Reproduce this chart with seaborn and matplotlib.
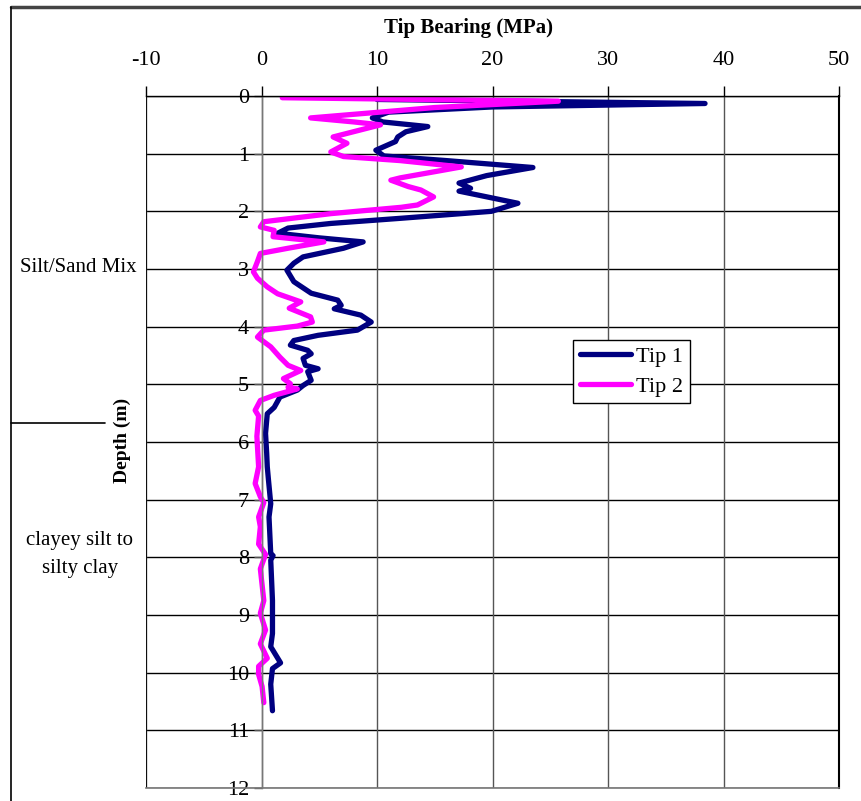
import matplotlib
matplotlib.use("Agg")
import matplotlib.pyplot as plt
import matplotlib.lines as mlines
import seaborn as sns
import pandas as pd

# Cone penetration profile: tip bearing (MPa) against depth (m)
tip1_depth = [0.06, 0.13, 0.19, 0.28, 0.38, 0.45, 0.53, 0.62, 0.71, 0.79, 0.94, 1.04,
              1.12, 1.24, 1.38, 1.51, 1.60, 1.65, 1.86, 2.00, 2.12, 2.21, 2.29, 2.38,
              2.46, 2.53, 2.64, 2.79, 2.90, 3.02, 3.22, 3.42, 3.54, 3.63, 3.69, 3.80,
              3.92, 4.06, 4.15, 4.24, 4.32, 4.41, 4.47, 4.55, 4.67, 4.73, 4.78, 4.93,
              5.02, 5.10, 5.22, 5.40, 5.51, 5.85, 6.20, 6.43, 6.65, 7.07, 7.30, 7.94,
              7.97, 8.05, 8.75, 9.32, 9.55, 9.83, 9.93, 10.20, 10.66]
tip1_mpa = [10.0, 38.4, 20.0, 11.0, 9.6, 10.5, 14.4, 12.5, 11.8, 11.6, 9.9, 10.6,
            16.0, 23.5, 19.5, 17.1, 18.1, 17.1, 22.2, 19.9, 12.1, 6.0, 2.3, 1.4,
            5.0, 8.8, 7.1, 3.6, 2.8, 2.2, 2.8, 4.3, 6.6, 6.9, 6.3, 8.6,
            9.5, 8.3, 4.9, 2.8, 2.5, 4.0, 4.3, 3.6, 3.8, 4.9, 4.0, 4.3,
            3.6, 3.1, 1.6, 1.1, 0.5, 0.35, 0.45, 0.5, 0.6, 0.8, 0.65, 0.8,
            1.0, 0.8, 0.95, 0.95, 0.8, 1.65, 0.95, 0.8, 0.95]

tip2_depth = [0.03, 0.09, 0.20, 0.38, 0.45, 0.50, 0.71, 0.82, 0.97, 1.05, 1.12, 1.23,
              1.42, 1.46, 1.57, 1.63, 1.75, 1.89, 1.93, 2.04, 2.18, 2.27, 2.33, 2.44,
              2.53, 2.64, 2.73, 2.87, 3.05, 3.16, 3.31, 3.43, 3.57, 3.68, 3.83, 3.92,
              3.99, 4.06, 4.18, 4.35, 4.53, 4.67, 4.76, 4.90, 4.99, 5.05, 5.08, 5.19,
              5.28, 5.45, 5.55, 5.90, 6.43, 6.72, 6.95, 7.05, 7.30, 7.47, 7.77, 7.95,
              8.20, 8.75, 8.97, 9.26, 9.50, 9.75, 9.89, 10.03, 10.24, 10.52]
tip2_mpa = [1.8, 25.7, 15.0, 4.25, 8.0, 10.3, 6.2, 7.4, 6.0, 7.1, 12.0, 17.3,
            12.0, 11.2, 12.7, 13.8, 14.9, 13.5, 12.1, 6.0, 0.2, -0.1, 1.1, 1.0,
            5.4, 2.3, -0.1, -0.35, -0.7, -0.35, 0.5, 1.4, 3.4, 2.4, 4.25, 4.4,
            3.1, 0.2, -0.35, 0.8, 1.6, 2.3, 3.4, 1.9, 2.5, 2.3, 3.1, 1.1,
            -0.1, -0.55, -0.25, -0.4, -0.25, -0.55, -0.1, 0.2, -0.25, -0.1, -0.25, 0.35,
            -0.1, 0.2, -0.1, 0.35, -0.1, 0.5, -0.25, -0.25, 0.05, 0.2]

x_ticks = [-10, 0, 10, 20, 30, 40, 50]
depth_ticks = list(range(0, 13))
series_names = ["Tip 1", "Tip 2"]
series_colors = ["#000080", "#FF00FF"]

df = pd.concat([
    pd.DataFrame({"depth": tip1_depth, "mpa": tip1_mpa, "series": series_names[0]}),
    pd.DataFrame({"depth": tip2_depth, "mpa": tip2_mpa, "series": series_names[1]}),
], ignore_index=True)

sns.set_theme(style="white")
plt.rcParams["font.family"] = ["Liberation Serif", "DejaVu Serif"]
plt.rcParams["text.color"] = "black"
plt.rcParams["axes.labelcolor"] = "black"
plt.rcParams["xtick.color"] = "black"
plt.rcParams["ytick.color"] = "black"

fig = plt.figure(figsize=(8.61, 8.01), dpi=100)
ax = fig.add_axes([146 / 861, 1 - 788 / 801, 693 / 861, 692 / 801])

for name, color in zip(series_names, series_colors):
    sub = df[df["series"] == name]
    sns.lineplot(data=sub, x="mpa", y="depth", sort=False, estimator=None,
                 color=color, linewidth=3.8, ax=ax, legend=False,
                 solid_capstyle="round", solid_joinstyle="round")

ax.set_xlim(-10, 50)
ax.set_ylim(12, 0)
ax.set_xticks(x_ticks)
ax.set_xticklabels([str(t) for t in x_ticks])
ax.set_yticks(depth_ticks)
ax.set_yticklabels([str(t) for t in depth_ticks])

# Grid: black horizontal lines, grey vertical lines
ax.grid(False)
for t in depth_ticks:
    ax.axhline(t, color="black", linewidth=1.0, zorder=0.5)
for t in x_ticks:
    ax.axvline(t, color="#555555", linewidth=1.0, zorder=0.5)
ax.axvline(-10, color="black", linewidth=1.2, zorder=0.6)

# Depth axis runs along x = 0
ax.spines["left"].set_position(("data", 0))
ax.spines["left"].set_color("#777777")
ax.spines["left"].set_linewidth(1.0)
ax.spines["bottom"].set_color("#777777")
ax.spines["bottom"].set_linewidth(1.2)
ax.spines["top"].set_color("black")
ax.spines["top"].set_linewidth(1.0)
ax.spines["right"].set_color("black")
ax.spines["right"].set_linewidth(1.5)

ax.xaxis.set_ticks_position("top")
ax.tick_params(axis="x", which="both", direction="out", length=7, width=1,
               color="black", labelsize=16, pad=12, bottom=False, top=True,
               labelbottom=False, labeltop=True, labelcolor="black")
ax.tick_params(axis="y", which="both", direction="out", length=6, width=1,
               color="#555555", labelsize=16, pad=3, left=True, labelleft=True,
               labelcolor="black")
ax.set_xlabel("")
ax.set_ylabel("")

fig.text(469 / 861, 1 - 28 / 801, "Tip Bearing (MPa)", fontsize=15,
         fontweight="bold", ha="center", va="center")
fig.text(122 / 861, 1 - 440 / 801, "Depth (m)", rotation=90, fontsize=14,
         fontweight="bold", ha="center", va="center")

# Soil layer annotations
fig.text(78 / 861, 1 - 268 / 801, "Silt/Sand Mix", fontsize=15, ha="center", va="center")
fig.text(80 / 861, 1 - 541 / 801, "clayey silt to", fontsize=15, ha="center", va="center")
fig.text(80 / 861, 1 - 568 / 801, "silty clay", fontsize=15, ha="center", va="center")
fig.add_artist(mlines.Line2D([11 / 861, 105 / 861], [1 - 423 / 801, 1 - 423 / 801],
                             color="black", linewidth=1.2, transform=fig.transFigure))

# Outer frame
fig.add_artist(mlines.Line2D([11 / 861, 1.0], [1 - 7 / 801, 1 - 7 / 801],
                             color="#444444", linewidth=2.5, transform=fig.transFigure))
fig.add_artist(mlines.Line2D([11 / 861, 11 / 861], [0, 1 - 7 / 801],
                             color="black", linewidth=1.2, transform=fig.transFigure))

handles = [mlines.Line2D([], [], color=c, linewidth=3.8, solid_capstyle="round")
           for c in series_colors]
leg = ax.legend(handles, series_names, loc="upper left",
                bbox_to_anchor=((573 - 146) / 693, (788 - 340) / 692),
                borderaxespad=0, fancybox=False, framealpha=1, edgecolor="black",
                fontsize=16, handlelength=2.3, handletextpad=0.25,
                borderpad=0.3, labelspacing=0.4)
leg.get_frame().set_linewidth(1.0)

fig.savefig("out.png", dpi=100)
